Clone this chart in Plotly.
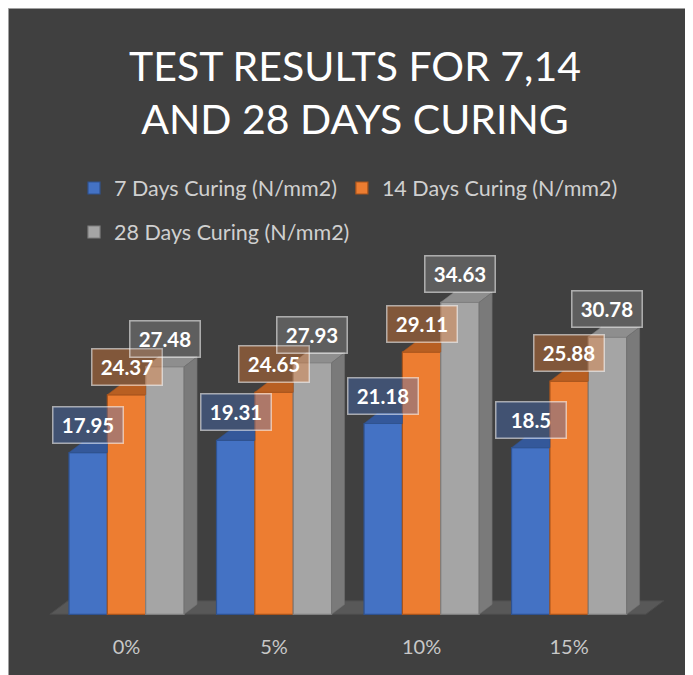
import plotly.graph_objects as go

categories = ["0%", "5%", "10%", "15%"]
series_names = ["7 Days Curing (N/mm2)", "14 Days Curing (N/mm2)", "28 Days Curing (N/mm2)"]
days7 = [17.95, 19.31, 21.18, 18.5]
days14 = [24.37, 24.65, 29.11, 25.88]
days28 = [27.48, 27.93, 34.63, 30.78]

front_colors = ["#4472C4", "#ED7D31", "#A5A5A5"]
edge_colors = ["#2F528F", "#A8541C", "#7F7F7F"]
top_colors = ["#34589A", "#B85F22", "#8E8E8E"]
side_color = "#7A7A7A"
label_fills = ["rgba(68,114,196,0.38)", "rgba(237,125,49,0.38)", "rgba(165,165,165,0.30)"]

FONT = "Lato"
OFF = 8                      # the page places the figure 8px from the top-left corner
W, H = 693 - OFF, 675 - OFF
ML, MR, MT, MB = 30, 28, 246, 58
PW, PH = W - ML - MR, H - MT - MB


def px_x(p):
    """page x pixel -> paper x"""
    return (p - OFF - ML) / PW


def px_y(p):
    """page y pixel -> paper y"""
    return (H - MB - (p - OFF)) / PH


series = [days7, days14, days28]
n = len(categories)
xs = list(range(n))
bargap = 0.22
w = (1 - bargap) / 3
dx, dy = 0.088, 1.1          # depth of the 3D bar faces (axis units)
fdx, fdy = 0.122, 1.5        # depth of the floor

fig = go.Figure()

for k, (name, vals) in enumerate(zip(series_names, series)):
    fig.add_trace(go.Bar(
        x=xs, y=vals, name=name,
        marker=dict(color=front_colors[k], line=dict(color=edge_colors[k], width=1.2)),
        legend="legend" if k < 2 else "legend2",
        hoverinfo="skip",
    ))

for i in xs:
    for k, vals in enumerate(series):
        h = vals[i]
        x0 = i + (k - 1) * w - w / 2
        x1 = x0 + w
        if k < 2:
            px = [x0, x1, x1, x0 + dx, x0]
        else:
            px = [x0, x1, x1 + dx, x0 + dx, x0]
        py = [h, h, h + dy, h + dy, h]
        fig.add_trace(go.Scatter(x=px, y=py, mode="lines", fill="toself",
                                 fillcolor=top_colors[k], line=dict(color=edge_colors[k], width=0.6),
                                 showlegend=False, hoverinfo="skip"))
        if k == 2:
            fig.add_trace(go.Scatter(x=[x1, x1, x1 + dx, x1 + dx, x1], y=[0, h, h + dy, dy, 0],
                                     mode="lines", fill="toself", fillcolor=side_color,
                                     line=dict(color="#6E6E6E", width=0.6),
                                     showlegend=False, hoverinfo="skip"))

for k, vals in enumerate(series):
    for i, v in enumerate(vals):
        fig.add_annotation(
            x=i + (k - 1) * w, y=v, xref="x", yref="y",
            text="<b>%s</b>" % v, showarrow=False,
            yanchor="bottom", yshift=9,
            font=dict(family=FONT, size=20.5, color="white"),
            bgcolor=label_fills[k], bordercolor="rgba(255,255,255,0.55)", borderwidth=1.5,
            borderpad=2, width=65, height=31,
        )

shapes = [
    dict(type="rect", xref="paper", yref="paper", x0=px_x(OFF + 0.5), x1=px_x(720), y0=px_y(720),
         y1=px_y(OFF + 0.5),
         fillcolor="#404040", line=dict(color="#A0A0A0", width=1), layer="below"),
    dict(type="path", xref="x", yref="y", layer="below",
         path="M %f,0 L %f,0 L %f,%f L %f,%f Z" % (-0.52, n - 0.48, n - 0.48 + fdx, fdy, -0.52 + fdx, fdy),
         fillcolor="#585858", line=dict(color="#4C4C4C", width=1)),
]

fig.update_layout(
    width=W, height=H,
    paper_bgcolor="white", plot_bgcolor="rgba(0,0,0,0)",
    barmode="group", bargap=bargap, bargroupgap=0,
    margin=dict(l=ML, r=MR, t=MT, b=MB),
    shapes=shapes,
    title=dict(text="TEST RESULTS FOR 7,14<br>AND 28 DAYS CURING", x=(355 - OFF) / W, xanchor="center",
               y=1 - (96 - OFF - 15) / H, yanchor="middle", xref="container", yref="container",
               font=dict(family=FONT, size=41, color="white")),
    legend=dict(orientation="h", x=px_x(74), xanchor="left", y=px_y(188), yanchor="middle",
                font=dict(family=FONT, size=21.5, color="#D0D0D0"), bgcolor="rgba(0,0,0,0)"),
    legend2=dict(orientation="h", x=px_x(74), xanchor="left", y=px_y(232), yanchor="middle",
                 font=dict(family=FONT, size=21.5, color="#D0D0D0"), bgcolor="rgba(0,0,0,0)"),
    xaxis=dict(range=[-0.6, n - 0.35], tickvals=xs, ticktext=categories, showgrid=False,
               zeroline=False, showline=False, ticklabelstandoff=16,
               tickfont=dict(family=FONT, size=20, color="#C8C8C8")),
    yaxis=dict(range=[-0.3, 40], visible=False, showgrid=False, zeroline=False),
)

fig.write_html("out.html")
